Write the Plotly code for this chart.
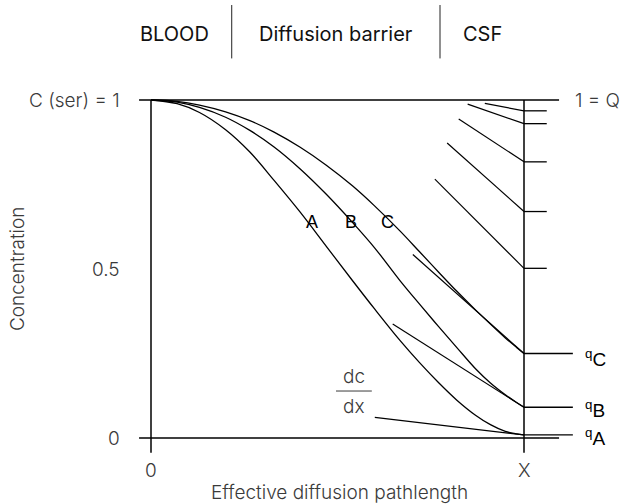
import plotly.graph_objects as go

# ---- data (normalised units: x 0 -> X = 1, concentration 0 -> 1) ----
path_x = [0, 0.07, 0.13, 0.2, 0.265, 0.33, 0.4, 0.47, 0.54, 0.6, 0.668,
          0.72, 0.77, 0.82, 0.87, 0.91, 0.95, 0.98, 1.0]
curve_a = [1, 0.989, 0.963, 0.912, 0.846, 0.762, 0.668, 0.567, 0.466, 0.381, 0.288,
           0.223, 0.165, 0.112, 0.0675, 0.0395, 0.0195, 0.012, 0.009]
curve_b = [1, 0.994, 0.978, 0.949, 0.910, 0.861, 0.796, 0.721, 0.638, 0.562, 0.465,
           0.396, 0.331, 0.2675, 0.205, 0.163, 0.128, 0.105, 0.091]
curve_c = [1, 0.996, 0.985, 0.965, 0.939, 0.905, 0.860, 0.807, 0.746, 0.686, 0.612,
           0.551, 0.492, 0.434, 0.379, 0.337, 0.296, 0.268, 0.25]
curve_names = ["A", "B", "C"]

# tangent (dc/dx) segments ending on the CSF side (x = 1)
tangent_x0 = [0.895, 0.849, 0.825, 0.794, 0.761, 0.702, 0.648, 0.600]
tangent_y0 = [0.990, 0.988, 0.944, 0.873, 0.766, 0.543, 0.337, 0.061]
tangent_y1 = [0.968, 0.930, 0.817, 0.670, 0.502, 0.25, 0.091, 0.009]

csf_tick_levels = [0.968, 0.930, 0.817, 0.670, 0.502]
q_levels = [0.25, 0.091, 0.009]
q_labels = ["<sup>q</sup>C", "<sup>q</sup>B", "<sup>q</sup>A"]

y_tick_vals = [1, 0.5, 0]
y_tick_text = ["C (ser) = 1", "0.5", "0"]
x_tick_vals = [0, 1]
x_tick_text = ["0", "X"]
regions = ["BLOOD", "Diffusion barrier", "CSF"]

# ---- layout constants ----
FONT = "Inter, Roboto, sans-serif"
ARIAL = "Liberation Sans, Arial, sans-serif"
GREY = "#3a3a3a"
LW = 1.3

fig = go.Figure()

def seg_trace(xs, ys, width=LW, color="black"):
    fig.add_trace(go.Scatter(x=xs, y=ys, mode="lines",
                             line=dict(color=color, width=width),
                             hoverinfo="skip", showlegend=False))

# frame lines
fx, fy = [], []
for yv in (1, 0):
    fx += [-0.032, 1.094, None]; fy += [yv, yv, None]
for xv in (0, 1):
    fx += [xv, xv, None]; fy += [-0.044, 1, None]
seg_trace(fx, fy, 1.5)

# ticks on CSF side
tx, ty = [], []
for lv in csf_tick_levels:
    tx += [1, 1.061, None]; ty += [lv, lv, None]
for lv in q_levels:
    tx += [1, 1.131, None]; ty += [lv, lv, None]
seg_trace(tx, ty, 1.3)

# tangents
gx, gy = [], []
for x0, y0, y1 in zip(tangent_x0, tangent_y0, tangent_y1):
    gx += [x0, 1, None]; gy += [y0, y1, None]
seg_trace(gx, gy, 1.2)

# concentration curves
for ys in (curve_a, curve_b, curve_c):
    fig.add_trace(go.Scatter(x=path_x, y=ys, mode="lines",
                             line=dict(color="black", width=LW, shape="spline", smoothing=1.0),
                             hoverinfo="skip", showlegend=False))

# header separators
for xv in (0.2164, 0.7748):
    seg_trace([xv, xv], [1.281, 1.123], 1.0, "#222222")

ann = []
def txt(x, y, s, size=19, color=GREY, xa="center", ya="middle", angle=0, family=FONT, weight=300):
    ann.append(dict(x=x, y=y, text=s, showarrow=False, xanchor=xa, yanchor=ya,
                    textangle=angle,
                    font=dict(family=family, size=size, color=color, weight=weight)))

for xc, s in zip([0.0643, 0.4968, 0.8887], regions):
    txt(xc, 1.195, s, 20, "#111111", weight=400)

for yv, s in zip(y_tick_vals, y_tick_text):
    txt(-0.078, yv, s, 19, GREY, xa="right")
for xv, s in zip(x_tick_vals, x_tick_text):
    txt(xv, -0.095, s, 19, GREY)

txt(0.505, -0.162, "Effective diffusion pathlength", 19, GREY)
txt(-0.359, 0.5, "Concentration", 19, GREY, angle=-90)
txt(1.131, 1.0, "1 = Q", 19, GREY, xa="left")

for lv, s, dy in zip(q_levels, q_labels, [-0.014, -0.004, -0.007]):
    txt(1.158, lv + dy, s, 19, "black", xa="left", family=ARIAL, weight=400)

for xc, s in zip([0.431, 0.537, 0.635], curve_names):
    txt(xc, 0.6376, s, 18, "black", family=ARIAL, weight=400)

# dc/dx fraction
txt(0.544, 0.182, "dc", 19, GREY)
txt(0.544, 0.093, "dx", 19, GREY)
seg_trace([0.496, 0.592], [0.139, 0.139], 1.0, GREY)

fig.update_layout(
    width=635, height=504,
    margin=dict(l=0, r=0, t=0, b=0),
    paper_bgcolor="white", plot_bgcolor="white",
    xaxis=dict(range=[-0.40483, 1.29759], visible=False, fixedrange=True),
    yaxis=dict(range=[-0.19527, 1.29586], visible=False, fixedrange=True),
    annotations=ann,
    showlegend=False,
)

fig.write_html("out.html")
